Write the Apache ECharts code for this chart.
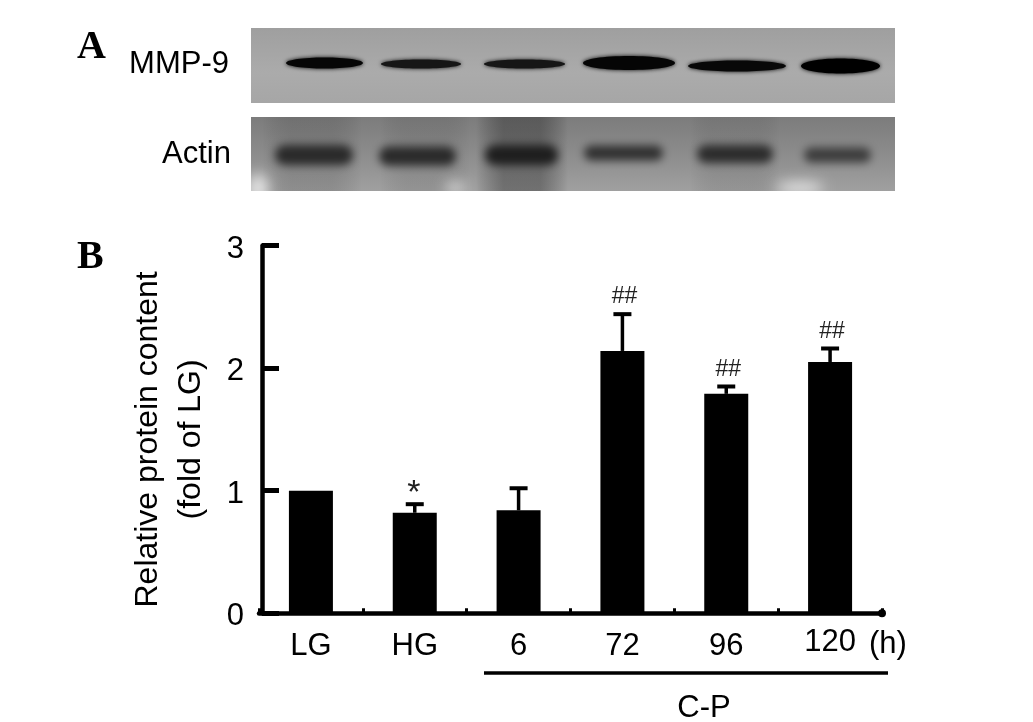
<!DOCTYPE html>
<html>
<head>
<meta charset="utf-8">
<title>MMP-9</title>
<style>
html,body{margin:0;padding:0;background:#fff;}
#main{width:1033px;height:722px;}
</style>
<script src="https://cdn.jsdelivr.net/npm/echarts@6/dist/echarts.min.js"></script>
</head>
<body>
<div id="main"></div>
<script>
// chart values
var categories = ['LG', 'HG', '6', '72', '96', '120'];
var means = [1.0, 0.82, 0.84, 2.14, 1.79, 2.05];
var errorTops = [1.0, 0.89, 1.02, 2.44, 1.85, 2.16];
var marks = ['', '*', '', '##', '##', '##'];
var yTicks = [0, 1, 2, 3];

// blot bands: left, right, centre y, height, colour
var mmpBands = [
    [286, 363, 63, 11, '#060606'],
    [381, 461, 64, 9, '#161616'],
    [484, 565, 64, 9, '#161616'],
    [583, 675, 63, 14, '#050505'],
    [688, 786, 66, 11, '#080808'],
    [801, 880, 66, 15, '#000000']
];
var actinBands = [
    [275, 353, 155, 20, '#2a2a2a'],
    [379, 456, 156, 19, '#2a2a2a'],
    [485, 558, 155, 20, '#1e1e1e'],
    [584, 663, 153, 15, '#303030'],
    [697, 773, 154, 18, '#2c2c2c'],
    [804, 871, 155, 15, '#3c3c3c']
];
// darker smears on the actin film: x, w, colour
var actinSmears = [
    [262, 100, 'rgba(50,50,50,0.16)'],
    [380, 90, 'rgba(60,60,60,0.12)'],
    [476, 92, 'rgba(30,30,30,0.36)'],
    [690, 90, 'rgba(70,70,70,0.12)']
];
// paler patches on the lower edge of the film: cx, rx, ry
var actinGlows = [
    [258, 10, 14],
    [455, 10, 5],
    [800, 24, 6]
];

// 只画阴影，形状本身放到画布外面，这样边缘才是虚的
var OFF = 3000;

var graphics = [
    {type:'rect', z:1, shape:{x:251,y:28,width:644,height:75}, style:{
        fill:{type:'linear',x:0,y:0,x2:0,y2:1,colorStops:[
            {offset:0,color:'#9f9f9f'},{offset:0.6,color:'#ababab'},{offset:1,color:'#a6a6a6'}]}}},
    {type:'rect', z:1, shape:{x:251,y:117,width:644,height:74}, style:{
        fill:{type:'linear',x:0,y:0,x2:0,y2:1,colorStops:[
            {offset:0,color:'#7c7c7c'},{offset:0.5,color:'#8c8c8c'},{offset:1,color:'#a0a0a0'}]}}}
];
actinSmears.forEach(function(s){
    graphics.push({type:'rect', z:2, shape:{x:s[0],y:117,width:s[1],height:74}, style:{
        fill:{type:'linear',x:0,y:0,x2:1,y2:0,colorStops:[
            {offset:0,color:'rgba(0,0,0,0)'},{offset:0.3,color:s[2]},{offset:0.7,color:s[2]},{offset:1,color:'rgba(0,0,0,0)'}]}}});
});
actinGlows.forEach(function(g){
    graphics.push({type:'ellipse', z:2, silent:true, shape:{cx:g[0]-OFF,cy:188,rx:g[1],ry:g[2]},
        style:{fill:'#fff', shadowBlur:14, shadowOffsetX:OFF, shadowColor:'rgba(255,255,255,0.75)'}});
});
mmpBands.forEach(function(b){
    graphics.push({type:'ellipse', z:3, silent:true,
        shape:{cx:(b[0]+b[1])/2, cy:b[2], rx:(b[1]-b[0])/2, ry:b[3]/2},
        style:{fill:b[4], shadowBlur:4, shadowColor:b[4]}});
});
actinBands.forEach(function(b){
    graphics.push({type:'rect', z:3, silent:true,
        shape:{x:b[0]-OFF, y:b[2]-b[3]/2, width:b[1]-b[0], height:b[3], r:b[3]/2},
        style:{fill:b[4], shadowBlur:9, shadowOffsetX:OFF, shadowColor:b[4]}});
});

function addText(txt, x, y, font, align) {
    graphics.push({type:'text', z:5, style:{x:x, y:y, text:txt, font:font, fill:'#000',
        align:align || 'left', verticalAlign:'middle'}});
}
var sans = '31px "Liberation Sans"';
var serif = 'bold 40px "Liberation Serif"';
addText('A', 77, 48, serif);
addText('B', 77, 258, serif);
addText('MMP-9', 229, 64, sans, 'right');
addText('Actin', 231, 154, sans, 'right');
addText('(h)', 869, 644, sans);
addText('C-P', 704, 708, sans, 'center');
graphics.push({type:'line', z:5, shape:{x1:484,y1:673,x2:888,y2:673}, style:{stroke:'#000',lineWidth:3.5}});

var chart = echarts.init(document.getElementById('main'));
var option = {
    animation: false,
    backgroundColor: '#fff',
    grid: {left: 259, width: 623, top: 245.5, height: 367.8},
    xAxis: {
        type: 'category',
        data: categories.map(function(c){
            return c === '120' ? {value: c, textStyle: {padding: [0,0,0,0]}} : c;
        }),
        boundaryGap: true,
        axisLine: {show:true, lineStyle:{color:'#000', width:4.5}, symbol:['none','circle'], symbolSize:[8,8]},
        axisTick: {show:true, inside:true, length:5, lineStyle:{color:'#000', width:3}},
        axisLabel: {color:'#000', fontFamily:'Liberation Sans', fontSize:31, margin:14, padding:[4,0,0,0]},
        splitLine: {show:false}
    },
    yAxis: {
        type: 'value',
        min: yTicks[0],
        max: yTicks[yTicks.length-1],
        interval: 1,
        offset: -3,
        name: 'Relative protein content\n(fold of LG)',
        nameLocation: 'middle',
        nameRotate: 90,
        nameGap: 49,
        nameTextStyle: {color:'#000', fontFamily:'Liberation Sans', fontSize:32, lineHeight:43, padding:[0,20,0,0]},
        axisLine: {show:true, onZero:false, lineStyle:{color:'#000', width:4.5}},
        axisTick: {show:true, inside:true, length:17, lineStyle:{color:'#000', width:5}},
        axisLabel: {color:'#000', fontFamily:'Liberation Sans', fontSize:31, margin:18, verticalAlign:'top', lineHeight:7},
        splitLine: {show:false}
    },
    series: [
        {
            type: 'bar',
            data: means,
            barWidth: 44,
            itemStyle: {color:'#000'},
            z: 2
        },
        {
            //误差线和显著性标记
            type: 'custom',
            data: errorTops.map(function(t, i){ return [i, t, means[i]]; }),
            encode: {x: 0, y: 1},
            z: 3,
            renderItem: function(params, api){
                var top = api.coord([api.value(0), api.value(1)]);
                var base = api.coord([api.value(0), api.value(2)]);
                var kids = [];
                if (api.value(1) > api.value(2)) {
                    kids.push({type:'line', shape:{x1:top[0],y1:base[1],x2:top[0],y2:top[1]}, style:{stroke:'#000',lineWidth:3.5}});
                    kids.push({type:'line', shape:{x1:top[0]-9,y1:top[1],x2:top[0]+9,y2:top[1]}, style:{stroke:'#000',lineWidth:4}});
                }
                var mark = marks[params.dataIndex];
                if (mark) {
                    var star = mark === '*';
                    kids.push({type:'text', style:{x:top[0]+(star?-1:2), y:top[1]-(star?11:17), text:mark,
                        font:(star?'34px':'23px')+' "Liberation Sans"', fill:'#222',
                        align:'center', verticalAlign:'middle'}});
                }
                return {type:'group', children:kids};
            }
        }
    ],
    graphic: graphics
};
chart.setOption(option);
</script>
</body>
</html>
